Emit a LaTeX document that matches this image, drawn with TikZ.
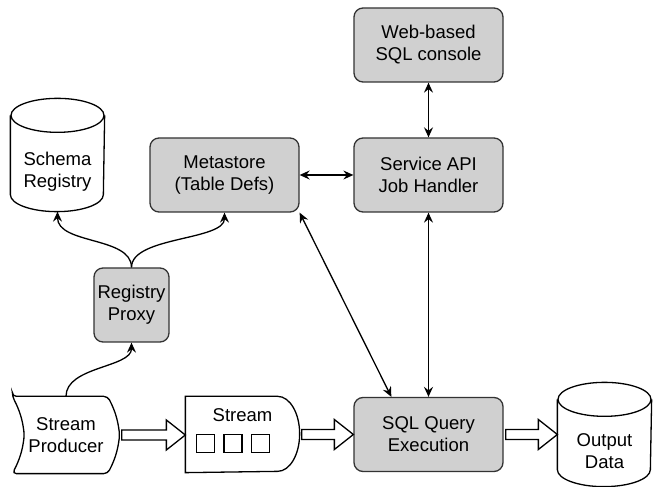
\documentclass[tikz,border=0pt]{standalone}
\usepackage{fontspec}
\setmainfont{Liberation Sans}
\usetikzlibrary{arrows.meta,calc}

\definecolor{boxgray}{RGB}{208,208,208}
\definecolor{edgegray}{RGB}{51,51,51}

\tikzset{
  box/.style={rectangle, rounded corners=9pt, draw=edgegray, fill=boxgray,
    line width=1.3pt, align=center, minimum width=149pt, minimum height=74pt,
    inner sep=2pt},
  store/.style={rectangle, align=center, minimum width=93pt, inner sep=0pt},
  outline/.style={draw=black, line width=1.3pt},
  flow/.style={draw=black, line width=1.3pt, fill=white, line join=miter},
  cell/.style={rectangle, draw=black, line width=1.2pt, minimum size=18pt,
    inner sep=0pt}
}

\begin{document}
\begin{tikzpicture}[x=1pt, y=1pt, line width=1.3pt,
    >={Stealth[length=10pt,width=9pt,inset=3.5pt]},
    every node/.style={font=\fontsize{18.5pt}{22pt}\selectfont}]
  \useasboundingbox (0,0) rectangle (656,487);

  % processing boxes
  \node (web) [box] at (428.5,442) {Web-based\\SQL console};
  \node (service) [box] at (428.5,312) {Service API\\Job Handler};
  \node (meta) [box] at (224.5,312) {Metastore\\(Table Defs)};
  \node (sql) [box] at (428.5,52.5) {SQL Query\\Execution};
  \node (proxy) [box, minimum width=75pt] at (131.5,182) {Registry\\Proxy};

  % data stores
  \node (schema) [store, minimum height=78pt] at (57.5,315) {Schema\\Registry};
  \node (out) [store, minimum height=69pt] at (604.5,35.5) {Output\\Data};
  \foreach \db in {schema,out} {
    \draw[outline] ([yshift=17pt]\db.north west) -- ([yshift=17pt]\db.south west)
      arc[start angle=180, end angle=360, x radius=46.5pt, y radius=17pt]
      -- ([yshift=17pt]\db.north east);
    \draw[outline] ([yshift=17pt]\db.north) ellipse [x radius=46.5pt, y radius=17pt];
  }

  % producer
  \node (prod) [rectangle, minimum width=106pt, minimum height=76pt, align=center]
    at (66,52) {Stream\\Producer};
  \draw[outline, rounded corners=4pt] (prod.north west)
    -- ([xshift=-12pt]prod.north east) to[bend left=10] (prod.east)
    to[bend left=10] ([xshift=-12pt]prod.south east) -- (prod.south west)
    to[bend right=10] ([xshift=12pt]prod.west) to[bend right=10] cycle;

  % stream
  \node (stream) [rectangle, minimum width=113pt, minimum height=75pt] at (242.5,52.5) {};
  \draw[outline] (stream.south west) -- (stream.north west)
    -- ([xshift=-22pt]stream.north east)
    arc[start angle=90, end angle=-90, x radius=22pt, y radius=37.5pt] -- cycle;
  \node (streamlbl) at ([yshift=19.5pt]stream.center) {Stream};
  \foreach \i in {0,1,2}
    \node (cell\i) [cell] at ([xshift=-37pt+27.5pt*\i, yshift=-9pt]stream.center) {};

  % block arrows
  \foreach \src/\dst in {prod/stream, stream/sql, sql/out}
    \draw[flow] ($(\src.east)+(2,5)$) -- ($(\src.east -| \dst.west)+(-19,5)$)
      -- ++(0,10) -- (\src.east -| \dst.west) -- ($(\src.east -| \dst.west)+(-19,-15)$)
      -- ++(0,10) -- ($(\src.east)+(2,-5)$) -- cycle;

  % connectors
  \draw[<->] (web) -- (service);
  \draw[<->] (meta) -- (service);
  \draw[<->] (service) -- (sql);
  \draw[<->] (meta.south east) -- ([xshift=38pt]sql.north west);
  \draw[->] (proxy.north) .. controls +(0,31) and +(0,-33) .. (schema.south);
  \draw[->] (proxy.north) .. controls +(0,31) and +(0,-28) .. (meta.south);
  \draw[->] (prod.north) .. controls +(0,30) and +(0,-25) .. (proxy.south);
\end{tikzpicture}
\end{document}
